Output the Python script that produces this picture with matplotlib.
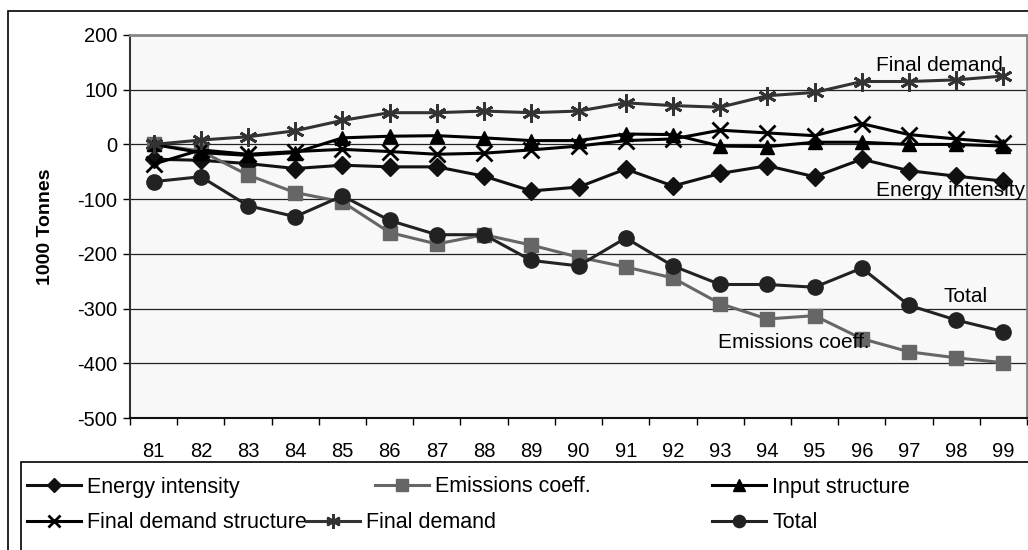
import matplotlib.pyplot as plt
from matplotlib.patches import Rectangle
import numpy as np

plt.rcParams['font.family'] = ['Liberation Sans', 'DejaVu Sans']
plt.rcParams['axes.unicode_minus'] = False

years = ['81', '82', '83', '84', '85', '86', '87', '88', '89', '90',
         '91', '92', '93', '94', '95', '96', '97', '98', '99']

energy_intensity = [-27, -29, -35, -44, -38, -41, -41, -58, -85, -78,
                    -45, -76, -53, -39, -59, -27, -48, -58, -67]
emissions_coeff = [0, -12, -56, -88, -105, -161, -182, -165, -184, -206,
                   -224, -244, -291, -319, -313, -355, -379, -390, -399]
input_structure = [0, -15, -20, -15, 12, 15, 16, 12, 7, 7,
                   19, 18, -3, -4, 4, 4, 0, 0, -3]
final_demand_structure = [-36, -10, -18, -13, -9, -13, -18, -16, -10, -3,
                          7, 10, 26, 21, 16, 38, 18, 10, 3]
final_demand = [0, 8, 14, 25, 44, 58, 58, 61, 58, 61,
                76, 71, 68, 89, 95, 115, 115, 118, 125]
total = [-68, -59, -112, -132, -94, -139, -165, -165, -212, -222,
         -171, -222, -256, -256, -261, -226, -294, -321, -342]

series = [
    ('Energy intensity', energy_intensity, '#111111', 'D', 9),
    ('Emissions coeff.', emissions_coeff, '#666666', 's', 10),
    ('Input structure', input_structure, '#000000', '^', 10),
    ('Final demand structure', final_demand_structure, '#000000', 'x', 11),
    ('Final demand', final_demand, '#333333', (6, 2, 0), 13),
    ('Total', total, '#222222', 'o', 11),
]

fig = plt.figure(figsize=(10.28, 5.5), dpi=100)
ax = fig.add_axes([130 / 1028, 1 - 418 / 550, 897 / 1028, 383 / 550])
ax.set_facecolor('#f8f8f8')

x = np.arange(len(years))
handles = []
for name, vals, col, mk, ms in series:
    ln, = ax.plot(x, vals, color=col, marker=mk, markersize=ms, linewidth=2.2,
                  markeredgewidth=2 if mk in ('x', (6, 2, 0)) else 1,
                  markeredgecolor=col, markerfacecolor=col, label=name, zorder=3)
    handles.append(ln)

ax.set_xlim(-0.5, len(years) - 0.5)
ax.set_ylim(-500, 200)
ax.set_yticks(np.arange(-500, 201, 100))
ax.tick_params(axis='y', labelsize=14.5, length=5, width=1, direction='out', pad=4)
ax.set_xticks(x)
ax.set_xticklabels(years)
ax.set_xticks(np.arange(-0.5, len(years), 1), minor=True)
ax.tick_params(axis='x', which='major', length=0, labelsize=14.5, pad=17)
ax.tick_params(axis='x', which='minor', length=5, width=1, direction='out')
ax.yaxis.grid(True, color='#222222', linewidth=0.9)
ax.set_axisbelow(True)

ax.spines['top'].set_color('#888888')
ax.spines['right'].set_color('#888888')
ax.spines['top'].set_linewidth(2)
ax.spines['right'].set_linewidth(2)
ax.spines['left'].set_color('#333333')
ax.spines['left'].set_linewidth(1.5)
ax.spines['bottom'].set_color('#111111')
ax.spines['bottom'].set_linewidth(1.5)

fig.text(46 / 1028, 1 - 227 / 550, '1000 Tonnes', rotation=90, fontsize=14,
         fontweight='bold', ha='center', va='center')

# inline labels
ax.text(15.3, 145, 'Final demand', fontsize=15, va='center')
ax.text(15.3, -85, 'Energy intensity', fontsize=15, va='center')
ax.text(16.74, -278, 'Total', fontsize=15, va='center')
ax.text(11.95, -362, 'Emissions coeff.', fontsize=15, va='center')

# outer frame and legend frame
fig.patches.append(Rectangle((8 / 1028, -0.1), 1.2, 1 - 11 / 550 + 0.1,
                             transform=fig.transFigure, fill=False,
                             edgecolor='black', linewidth=1.2))
fig.patches.append(Rectangle((21 / 1028, -0.1), 1.2, 1 - 462 / 550 + 0.1,
                             transform=fig.transFigure, fill=False,
                             edgecolor='black', linewidth=1.2))

# legend entries placed like the original layout
spots = [(27, 487), (375, 487), (712, 487), (27, 523), (306, 523), (712, 523)]
for h, (px, py) in zip(handles, spots):
    fig.legend([h], [h.get_label()], loc='center left',
               bbox_to_anchor=(px / 1028, 1 - py / 550), frameon=False,
               fontsize=15.5, handlelength=2.5, handletextpad=0.3,
               borderpad=0, borderaxespad=0, markerscale=0.8)

fig.savefig('out.png', dpi=100)
